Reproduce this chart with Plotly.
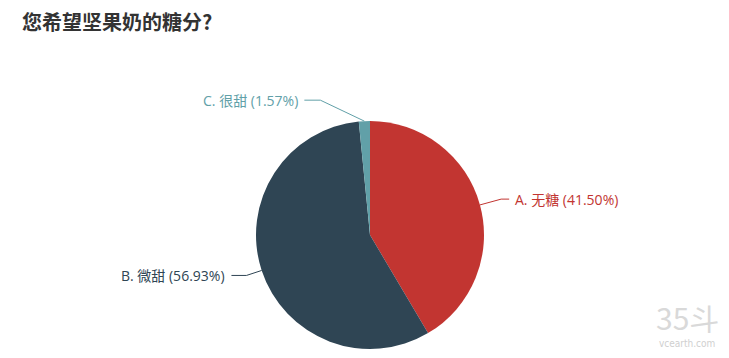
import math
import plotly.graph_objects as go

# ---- data ----
title_text = "您希望坚果奶的糖分?"
categories = ["A. 无糖", "B. 微甜", "C. 很甜"]
percents = [41.50, 56.93, 1.57]

# ---- style ----
colors = ["#c23531", "#2f4554", "#61a0a8"]
W, H = 729, 358
CX, CY, R = 370, 235, 114          # pie centre / radius in pixels (top-left origin)
leg1 = [22, 16, 21]                 # radial leader length per label
shift = [0, 0, -43]                 # horizontal nudge of bend (label layout)
leg2 = [8, 15, 16]                  # horizontal leader length per label
font_lbl = "Open Sans, Noto Sans CJK SC, sans-serif"
font_cjk = "Noto Sans CJK SC, Microsoft YaHei, sans-serif"

fig = go.Figure()
fig.add_trace(go.Pie(
    labels=categories,
    values=percents,
    sort=False,
    direction="clockwise",
    rotation=0,
    marker=dict(colors=colors, line=dict(width=0)),
    textinfo="none",
    hoverinfo="label+percent",
    showlegend=False,
    domain=dict(x=[(CX - R) / W, (CX + R) / W],
                y=[(H - CY - R) / H, (H - CY + R) / H]),
))

def px(x):
    return x / W

def py(y):
    return 1 - y / H

shapes = []
annotations = []
total = sum(percents)
cum = 0.0
for i, (cat, p) in enumerate(zip(categories, percents)):
    mid = (cum + p / 2) / total * 2 * math.pi
    cum += p
    dx, dy = math.sin(mid), -math.cos(mid)
    x0, y0 = CX + R * dx, CY + R * dy
    x1, y1 = x0 + leg1[i] * dx + shift[i], y0 + leg1[i] * dy
    side = 1 if dx >= 0 else -1
    x2, y2 = x1 + side * leg2[i], y1
    path = f"M {px(x0)},{py(y0)} L {px(x1)},{py(y1)} L {px(x2)},{py(y2)}"
    shapes.append(dict(type="path", xref="paper", yref="paper", path=path,
                       line=dict(color=colors[i], width=1)))
    annotations.append(dict(
        xref="paper", yref="paper", x=px(x2 + side * 4), y=py(y2),
        text=f"{cat} ({p:.2f}%)", showarrow=False,
        xanchor="left" if side > 0 else "right", yanchor="middle",
        font=dict(family=font_lbl, size=14, color=colors[i])))

# watermark
annotations.append(dict(xref="paper", yref="paper", x=px(687), y=py(317),
                        text="35斗", showarrow=False, xanchor="center", yanchor="middle",
                        font=dict(family=font_cjk, size=30, color="#d9d9d9")))
annotations.append(dict(xref="paper", yref="paper", x=px(687), y=py(343),
                        text="vcearth.com", showarrow=False, xanchor="center", yanchor="middle",
                        font=dict(family="Liberation Sans Narrow, DejaVu Sans Condensed, sans-serif",
                                  size=10, color="#cfcfcf")))

fig.update_layout(
    width=W, height=H,
    margin=dict(l=0, r=0, t=0, b=0),
    paper_bgcolor="white", plot_bgcolor="white",
    title=dict(text=f"<b>{title_text}</b>", x=22 / W, xanchor="left",
               y=py(23), yanchor="middle",
               font=dict(family=font_cjk, size=20, color="#333333")),
    shapes=shapes,
    annotations=annotations,
)

fig.write_html("out.html")
